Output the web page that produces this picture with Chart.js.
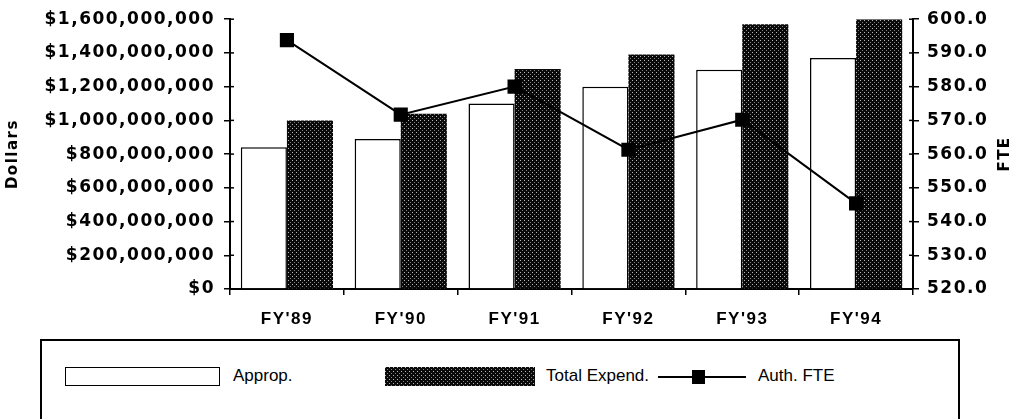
<!DOCTYPE html>
<html>
<head>
<title>Approp vs Expend</title>
<script src="https://cdn.jsdelivr.net/npm/chart.js"></script>
<style>
    body { margin: 0; background: #fff; }
    #wrap { position: relative; width: 1021px; height: 419px; overflow: hidden; }
    #chart { position: absolute; left: 0; top: 0; }
    .legend {
        position: absolute; left: 40px; top: 339px; width: 920px; height: 90px;
        border: 2px solid #000; box-sizing: border-box;
        font: 17px "Liberation Sans", Arial, sans-serif; color: #000;
    }
    .legend span { position: absolute; top: 25px; line-height: 20px; }
    .sw { position: absolute; top: 26px; height: 19px; box-sizing: border-box; }
</style>
</head>
<body>
<div id="wrap">
    <canvas id="chart" width="1021" height="335"></canvas>
    <div class="legend">
        <div class="sw" style="left:23px;width:155px;border:1.5px solid #000;background:#fff"></div>
        <span style="left:191px">Approp.</span>
        <div class="sw" id="patSwatch" style="left:343px;width:150px"></div>
        <span style="left:504px">Total Expend.</span>
        <div style="position:absolute;left:616px;top:35px;width:88px;height:2px;background:#000"></div>
        <div style="position:absolute;left:650px;top:29px;width:13px;height:14px;background:#000"></div>
        <span style="left:716px">Auth. FTE</span>
    </div>
</div>
<script>
    const years = ["FY'89", "FY'90", "FY'91", "FY'92", "FY'93", "FY'94"];
    const approp = [840000000, 890000000, 1100000000, 1200000000, 1300000000, 1370000000];
    const totalExpend = [1000000000, 1040000000, 1305000000, 1390000000, 1570000000, 1600000000];
    const authFte = [593.8, 571.7, 580.0, 561.3, 570.2, 545.4];

    // stippled dark fill like the old printout
    const pc = document.createElement('canvas');
    pc.width = 4; pc.height = 4;
    const pctx = pc.getContext('2d');
    pctx.fillStyle = '#0a0a0a';
    pctx.fillRect(0, 0, 4, 4);
    pctx.fillStyle = '#b8b8b8';
    pctx.fillRect(0, 0, 1, 1);
    pctx.fillStyle = '#808080';
    pctx.fillRect(2, 2, 1, 1);
    const ctx = document.getElementById('chart').getContext('2d');
    const stipple = ctx.createPattern(pc, 'repeat');
    document.getElementById('patSwatch').style.background = 'url(' + pc.toDataURL() + ')';

    const tickFont = { family: '"DejaVu Sans", Verdana, sans-serif', size: 17, weight: 'bold' };

    const extras = {
        id: 'extras',
        beforeDraw: chart => { chart.ctx.letterSpacing = '1.5px'; },
        afterDraw: chart => {
            const c = chart.ctx;
            c.save();
            // short ticks on the inner side of both value axes
            c.strokeStyle = '#000';
            c.lineWidth = 1.5;
            ['y', 'y1'].forEach(id => {
                const s = chart.scales[id];
                const x = id === 'y' ? s.right : s.left;
                const d = id === 'y' ? 4 : -4;
                s.ticks.forEach(t => {
                    const yy = s.getPixelForValue(t.value);
                    c.beginPath();
                    c.moveTo(x, yy);
                    c.lineTo(x + d, yy);
                    c.stroke();
                });
            });
            c.translate(1005, 154);
            c.rotate(-Math.PI / 2);
            c.font = 'bold 15px "DejaVu Sans", Verdana, sans-serif';
            c.fillStyle = '#000';
            c.textAlign = 'center';
            c.textBaseline = 'middle';
            c.fillText('FTE', 0, 0);
            c.restore();
            c.letterSpacing = '0px';
        }
    };

    new Chart(ctx, {
        type: 'bar',
        data: {
            labels: years,
            datasets: [
                {
                    type: 'line',
                    label: 'Auth. FTE',
                    data: authFte,
                    yAxisID: 'y1',
                    borderColor: '#000',
                    borderWidth: 2,
                    pointStyle: 'rect',
                    pointRadius: 10,
                    pointBackgroundColor: '#000',
                    pointBorderWidth: 0,
                    order: 0
                },
                {
                    label: 'Approp.',
                    data: approp,
                    backgroundColor: '#fff',
                    borderColor: '#000',
                    borderWidth: 1.5,
                    borderSkipped: 'start',
                    yAxisID: 'y',
                    order: 1
                },
                {
                    label: 'Total Expend.',
                    data: totalExpend,
                    backgroundColor: stipple,
                    borderWidth: 0,
                    yAxisID: 'y',
                    order: 1
                }
            ]
        },
        options: {
            responsive: false,
            animation: false,
            datasets: { bar: { categoryPercentage: 0.81, barPercentage: 1.0 } },
            layout: { padding: { top: 18, bottom: 0, left: 0, right: 0 } },
            scales: {
                x: {
                    grid: { drawOnChartArea: false, tickLength: 6, color: '#000', lineWidth: 1.5, offset: true },
                    border: { color: '#000', width: 2 },
                    ticks: {
                        color: '#000', padding: 14,
                        font: { family: '"Liberation Sans", Arial, sans-serif', size: 17, weight: 'bold' }
                    },
                    afterFit: s => { s.height = 46; }
                },
                y: {
                    position: 'left',
                    min: 0, max: 1600000000,
                    grid: { drawOnChartArea: false, tickLength: 6, color: '#000', lineWidth: 1.5 },
                    border: { color: '#000', width: 2 },
                    ticks: {
                        stepSize: 200000000, color: '#000', padding: 9, font: tickFont,
                        callback: v => '$' + Number(v).toLocaleString('en-US')
                    },
                    title: {
                        display: true, text: 'Dollars', color: '#000', padding: 4,
                        font: { family: '"DejaVu Sans", Verdana, sans-serif', size: 15, weight: 'bold' }
                    },
                    afterFit: s => { s.width = 230; }
                },
                y1: {
                    position: 'right',
                    min: 520, max: 600,
                    grid: { drawOnChartArea: false, tickLength: 6, color: '#000', lineWidth: 1.5 },
                    border: { color: '#000', width: 2 },
                    ticks: {
                        stepSize: 10, color: '#000', padding: 8, font: tickFont,
                        callback: v => Number(v).toFixed(1)
                    },
                    afterFit: s => { s.width = 108; }
                }
            },
            plugins: {
                legend: { display: false },
                tooltip: { enabled: false }
            }
        },
        plugins: [extras]
    });
</script>
</body>
</html>
